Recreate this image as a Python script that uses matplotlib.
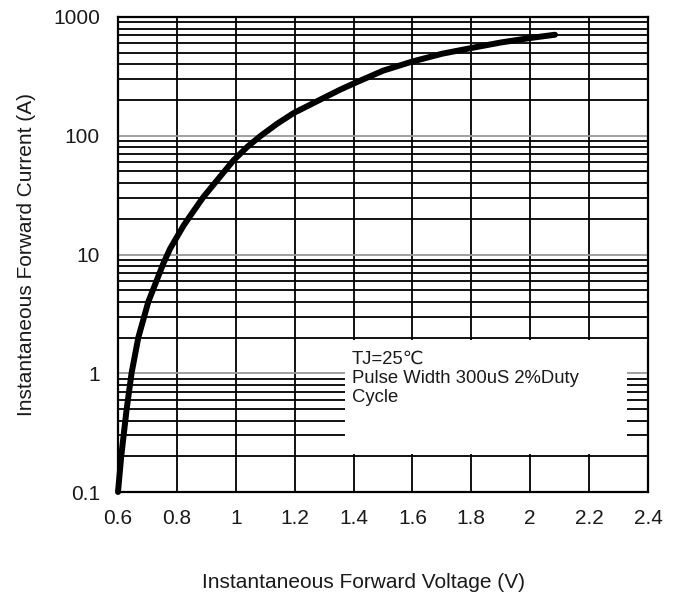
import matplotlib
matplotlib.use("Agg")
from matplotlib import pyplot as plt
from matplotlib.patches import Rectangle
from matplotlib.ticker import LogLocator, NullFormatter
import numpy as np

plt.rcParams['font.family'] = ['Liberation Sans', 'DejaVu Sans']

# forward voltage (V) vs instantaneous forward current (A)
voltage = [0.600, 0.611, 0.629, 0.646, 0.669, 0.703, 0.754, 0.777, 0.822, 0.850,
           0.890, 0.992, 1.040, 1.085, 1.140, 1.196, 1.286, 1.354, 1.400, 1.500,
           1.600, 1.700, 1.800, 1.900, 1.999, 2.084]
current = [0.1, 0.2, 0.49, 1.0, 2.0, 4.0, 8.4, 11.2, 17.4, 22.0,
           30.5, 62.0, 81.0, 100.0, 126.0, 155.0, 201.0, 244.0, 275.0, 353.0,
           422.0, 490.0, 548.0, 610.0, 665.0, 709.0]

x_ticks = [0.6, 0.8, 1.0, 1.2, 1.4, 1.6, 1.8, 2.0, 2.2, 2.4]
x_labels = ["0.6", "0.8", "1", "1.2", "1.4", "1.6", "1.8", "2", "2.2", "2.4"]
y_ticks = [0.1, 1, 10, 100, 1000]
y_labels = ["0.1", "1", "10", "100", "1000"]
note = "TJ=25\u2103\nPulse Width 300uS 2%Duty\nCycle"

fig = plt.figure(figsize=(6.82, 5.96), dpi=100)
ax = fig.add_axes([118 / 682, 1 - 492 / 596, 530 / 682, 475 / 596])

ax.set_yscale("log")
ax.set_xlim(0.6, 2.4)
ax.set_ylim(0.1, 1000)

ax.set_xticks(x_ticks)
ax.set_xticklabels(x_labels)
ax.set_yticks(y_ticks)
ax.set_yticklabels(y_labels)
ax.yaxis.set_minor_locator(LogLocator(base=10, subs=np.arange(2, 10)))
ax.yaxis.set_minor_formatter(NullFormatter())
ax.tick_params(which="both", length=0, labelsize=15, colors="#1a1a1a")
ax.tick_params(axis="x", pad=12)
ax.tick_params(axis="y", pad=13)

ax.set_axisbelow(True)
ax.grid(True, which="major", axis="x", color="black", lw=1.3)
ax.grid(True, which="major", axis="y", color="#999999", lw=1.3)
ax.grid(True, which="minor", axis="y", color="black", lw=1.3)

for s in ax.spines.values():
    s.set_linewidth(1.6)
    s.set_color("black")

# white box behind the test-condition note
ax.add_patch(Rectangle((1.371, 0.21), 2.329 - 1.371, 1.9 - 0.21,
                       facecolor="white", edgecolor="none", zorder=1))
ax.text(1.395, 1.56, note, fontsize=13.3, va="top", ha="left",
        linespacing=1.17, zorder=3, color="#1a1a1a")

ax.plot(voltage, current, color="black", lw=4.3, solid_capstyle="round",
        solid_joinstyle="round", zorder=4, clip_on=False)

ax.set_xlabel("Instantaneous Forward Voltage (V)", fontsize=15, color="#1a1a1a")
ax.set_ylabel("Instantaneous Forward Current (A)", fontsize=15, color="#1a1a1a")
ax.xaxis.set_label_coords(0.464, -0.17)
ax.yaxis.set_label_coords(-0.155, 0.5)

fig.savefig("out.png", dpi=100)
